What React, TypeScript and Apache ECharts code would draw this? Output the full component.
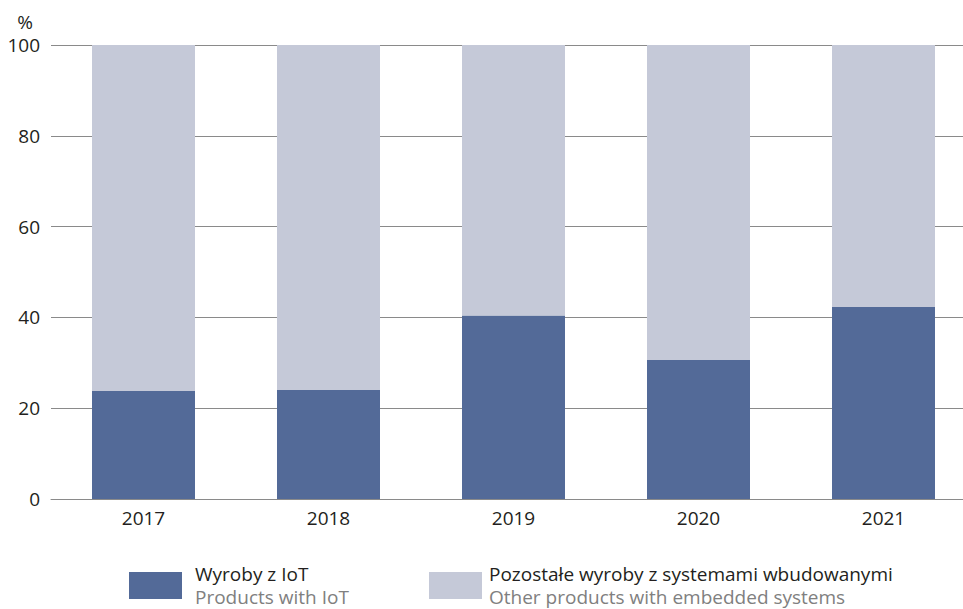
import React, { useEffect, useRef } from "react";
import * as echarts from "echarts";

const years = ["2017", "2018", "2019", "2020", "2021"];
const iotShare = [23.8, 24.0, 40.4, 30.6, 42.3];
const otherShare = [76.2, 76.0, 59.6, 69.4, 57.7];
const yTicks = [0, 20, 40, 60, 80, 100];
const seriesNamesPl = ["Wyroby z IoT", "Pozostałe wyroby z systemami wbudowanymi"];
const seriesNamesEn = ["Products with IoT", "Other products with embedded systems"];

const DARK = "#536a98";
const LIGHT = "#c5c9d8";
const FONT = "Open Sans";
const FS = 19;

export default function App() {
  const ref = useRef<HTMLDivElement>(null);
  useEffect(() => {
    if (!ref.current) return;
    const chart = echarts.init(ref.current, undefined, { renderer: "svg" });
    const legendX = [129, 429];
    const legendTextX = [195, 489];
    const colors = [DARK, LIGHT];
    const graphics: any[] = [];
    for (let i = 0; i < 2; i++) {
      graphics.push({
        type: "rect",
        left: legendX[i],
        top: 572,
        shape: { width: 53, height: 27 },
        style: { fill: colors[i] },
      });
      graphics.push({
        type: "text",
        x: legendTextX[i],
        y: 574,
        style: {
          text: seriesNamesPl[i],
          fill: "#231f20",
          font: `${FS}px "${FONT}"`,
          verticalAlign: "middle",
          align: "left",
        },
      });
      graphics.push({
        type: "text",
        x: legendTextX[i],
        y: 597,
        style: {
          text: seriesNamesEn[i],
          fill: "#808080",
          font: `${FS}px "${FONT}"`,
          verticalAlign: "middle",
          align: "left",
        },
      });
    }
    chart.setOption({
      animation: false,
      backgroundColor: "#ffffff",
      grid: { left: 51, top: 45, right: 0, height: 454, containLabel: false },
      xAxis: {
        type: "category",
        data: years,
        axisTick: { show: false },
        axisLine: { show: true, lineStyle: { color: "#8a8a8a", width: 1 } },
        axisLabel: { color: "#231f20", fontSize: FS, fontFamily: FONT, margin: 9 },
      },
      yAxis: {
        type: "value",
        min: 0,
        max: 100,
        interval: 20,
        name: "%",
        nameLocation: "end",
        nameGap: 14,
        nameTextStyle: {
          color: "#231f20",
          fontSize: FS,
          fontFamily: FONT,
          align: "right",
          padding: [0, 18, 0, 0],
        },
        axisLine: { show: false },
        axisTick: { show: false },
        axisLabel: {
          color: "#231f20",
          fontSize: FS,
          fontFamily: FONT,
          margin: 11,
          formatter: (v: number) => (yTicks.includes(v) ? String(v) : ""),
        },
        splitLine: { show: true, lineStyle: { color: "#8a8a8a", width: 1 } },
      },
      series: [
        {
          name: seriesNamesPl[0],
          type: "bar",
          stack: "total",
          data: iotShare,
          barWidth: 103,
          itemStyle: { color: DARK },
        },
        {
          name: seriesNamesPl[1],
          type: "bar",
          stack: "total",
          data: otherShare,
          barWidth: 103,
          itemStyle: { color: LIGHT },
        },
      ],
      graphic: graphics,
    });
    return () => chart.dispose();
  }, []);
  return (
    <div
      style={{
        position: "fixed",
        left: 0,
        top: 0,
        width: 963,
        height: 609,
        overflow: "hidden",
        background: "#fff",
      }}
    >
      <div ref={ref} style={{ width: 976, height: 609 }} />
    </div>
  );
}
